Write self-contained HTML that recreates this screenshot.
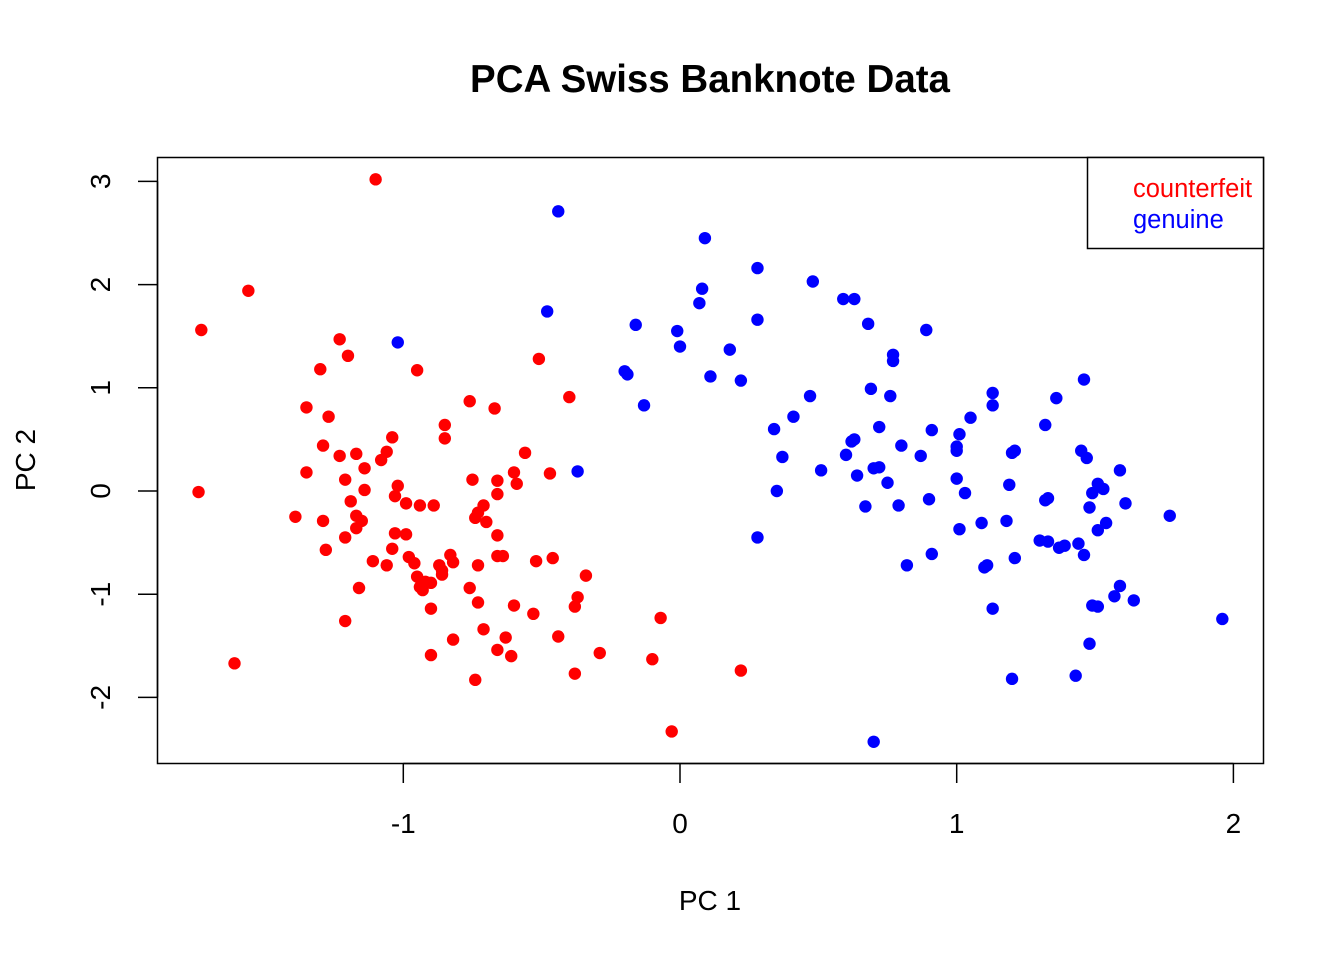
<!DOCTYPE html>
<html><head><meta charset="utf-8"><style>
html,body{margin:0;padding:0;background:#fff;}
svg{display:block;font-family:"Liberation Sans",Arial,sans-serif;}
</style></head><body>
<svg id="chart" width="1344" height="960" viewBox="0 0 1344 960">
<text x="710" y="92" text-anchor="middle" font-size="38.5" font-weight="bold">PCA Swiss Banknote Data</text>
<rect x="157.5" y="157.5" width="1106" height="606" fill="none" stroke="#000" stroke-width="1.5"/>
<g id="xaxis"></g>
<g id="yaxis"></g>
<text x="710" y="910" text-anchor="middle" font-size="28">PC 1</text>
<text x="0" y="0" transform="translate(35,460) rotate(-90)" text-anchor="middle" font-size="28">PC 2</text>
<g id="points"></g>
<g>
<rect x="1087.5" y="157.5" width="176" height="91" fill="#fff" stroke="#000" stroke-width="1.5"/>
<text x="1133" y="197" font-size="25.5" fill="#ff0000">counterfeit</text>
<text x="1133" y="228" font-size="25.5" fill="#0000ff">genuine</text>
</g>
</svg>
<script>
const xTicks=[-1,0,1,2];
const yTicks=[-2,-1,0,1,2,3];
const counterfeitX=[-1.10,-1.56,-1.73,-1.74,-1.61,-1.23,-1.20,-1.30,-0.95,-1.35,-1.27,-1.04,-1.08,-1.06,-1.29,-1.23,-1.17,-1.35,-1.14,-1.21,-1.14,-1.02,-1.03,-0.99,-0.94,-0.89,-1.19,-1.39,-1.29,-1.17,-1.15,-1.17,-1.21,-1.03,-0.99,-1.28,-1.04,-1.11,-1.06,-0.98,-0.96,-1.16,-1.21,-0.95,-0.92,-0.94,-0.90,-0.93,-0.86,-0.87,-0.83,-0.82,-0.90,-0.90,-0.82,-0.76,-0.85,-0.85,-0.67,-0.51,-0.40,-0.56,-0.60,-0.59,-0.47,-0.75,-0.66,-0.66,-0.71,-0.73,-0.74,-0.70,-0.73,-0.76,-0.73,-0.66,-0.66,-0.64,-0.52,-0.46,-0.34,-0.37,-0.38,-0.60,-0.53,-0.71,-0.63,-0.66,-0.61,-0.44,-0.29,-0.38,-0.74,-0.10,-0.07,-0.03,0.22,-0.86];
const counterfeitY=[3.02,1.94,1.56,-0.01,-1.67,1.47,1.31,1.18,1.17,0.81,0.72,0.52,0.30,0.38,0.44,0.34,0.36,0.18,0.22,0.11,0.01,0.05,-0.05,-0.12,-0.14,-0.14,-0.10,-0.25,-0.29,-0.24,-0.29,-0.36,-0.45,-0.41,-0.42,-0.57,-0.56,-0.68,-0.72,-0.64,-0.70,-0.94,-1.26,-0.83,-0.88,-0.93,-0.89,-0.96,-0.81,-0.72,-0.62,-0.69,-1.14,-1.59,-1.44,0.87,0.64,0.51,0.80,1.28,0.91,0.37,0.18,0.07,0.17,0.11,0.10,-0.03,-0.14,-0.21,-0.26,-0.30,-0.72,-0.94,-1.08,-0.43,-0.63,-0.63,-0.68,-0.65,-0.82,-1.03,-1.12,-1.11,-1.19,-1.34,-1.42,-1.54,-1.60,-1.41,-1.57,-1.77,-1.83,-1.63,-1.23,-2.33,-1.74,-0.77];
const genuineX=[-0.44,0.09,0.28,0.48,0.59,0.63,0.08,0.07,-0.48,-1.02,-0.16,-0.01,0.00,0.28,0.68,0.89,0.18,0.77,0.77,-0.20,-0.19,0.11,0.22,0.69,0.76,0.47,-0.13,0.41,0.34,0.72,0.63,0.62,0.80,0.91,1.01,1.00,1.00,1.05,1.13,1.13,1.46,1.36,1.32,1.20,1.21,1.45,1.47,0.37,0.60,0.51,0.70,0.72,0.64,0.87,1.00,1.59,0.75,1.19,1.51,1.53,1.49,1.03,0.35,-0.37,0.67,0.79,0.90,1.32,1.33,1.48,1.61,1.77,1.54,1.51,1.18,1.09,1.01,0.28,1.30,1.33,1.37,1.39,1.44,1.46,0.91,0.82,1.10,1.11,1.21,1.59,1.57,1.64,1.49,1.51,1.13,1.96,1.48,1.20,1.43,0.70];
const genuineY=[2.71,2.45,2.16,2.03,1.86,1.86,1.96,1.82,1.74,1.44,1.61,1.55,1.40,1.66,1.62,1.56,1.37,1.32,1.26,1.16,1.13,1.11,1.07,0.99,0.92,0.92,0.83,0.72,0.60,0.62,0.50,0.48,0.44,0.59,0.55,0.43,0.39,0.71,0.95,0.83,1.08,0.90,0.64,0.37,0.39,0.39,0.32,0.33,0.35,0.20,0.22,0.23,0.15,0.34,0.12,0.20,0.08,0.06,0.07,0.02,-0.02,-0.02,0.00,0.19,-0.15,-0.14,-0.08,-0.09,-0.07,-0.16,-0.12,-0.24,-0.31,-0.38,-0.29,-0.31,-0.37,-0.45,-0.48,-0.49,-0.55,-0.53,-0.51,-0.62,-0.61,-0.72,-0.74,-0.72,-0.65,-0.92,-1.02,-1.06,-1.11,-1.12,-1.14,-1.24,-1.48,-1.82,-1.79,-2.43];

const NS='http://www.w3.org/2000/svg';
function sx(v){return 680+v*276.7;}
function sy(v){return 491-v*103.2;}
function mk(tag,attrs,parent){const e=document.createElementNS(NS,tag);for(const k in attrs)e.setAttribute(k,attrs[k]);parent.appendChild(e);return e;}

const xa=document.getElementById('xaxis');
mk('line',{x1:sx(-1),x2:sx(2),y1:763.5,y2:763.5,stroke:'#000','stroke-width':1.5},xa);
xTicks.forEach(t=>{
  const l=mk('line',{x1:sx(t),x2:sx(t),y1:763.5,y2:783,stroke:'#000','stroke-width':1.5},xa);
  
  
  const tx=mk('text',{x:sx(t),y:833,'text-anchor':'middle','font-size':28},xa);
  tx.textContent=t<0?'-'+Math.abs(t):String(t);
  
  
});
const ya=document.getElementById('yaxis');
mk('line',{x1:157.5,x2:157.5,y1:sy(-2),y2:sy(3),stroke:'#000','stroke-width':1.5},ya);
yTicks.forEach(t=>{
  const l=mk('line',{x1:138,x2:157.5,y1:sy(t),y2:sy(t),stroke:'#000','stroke-width':1.5},ya);
  
  
  const tx=mk('text',{x:0,y:0,transform:'translate(110,'+sy(t)+') rotate(-90)','text-anchor':'middle','font-size':28},ya);
  tx.textContent=t<0?'-'+Math.abs(t):String(t);
  
  
});
const pg=document.getElementById('points');
counterfeitX.forEach((x,i)=>{
  const c=mk('circle',{cx:sx(x),cy:sy(counterfeitY[i]),r:6.2,fill:'#ff0000'},pg);
  
  
});
genuineX.forEach((x,i)=>{
  const c=mk('circle',{cx:sx(x),cy:sy(genuineY[i]),r:6.2,fill:'#0000ff'},pg);
  
  
});
</script>
</body></html>
